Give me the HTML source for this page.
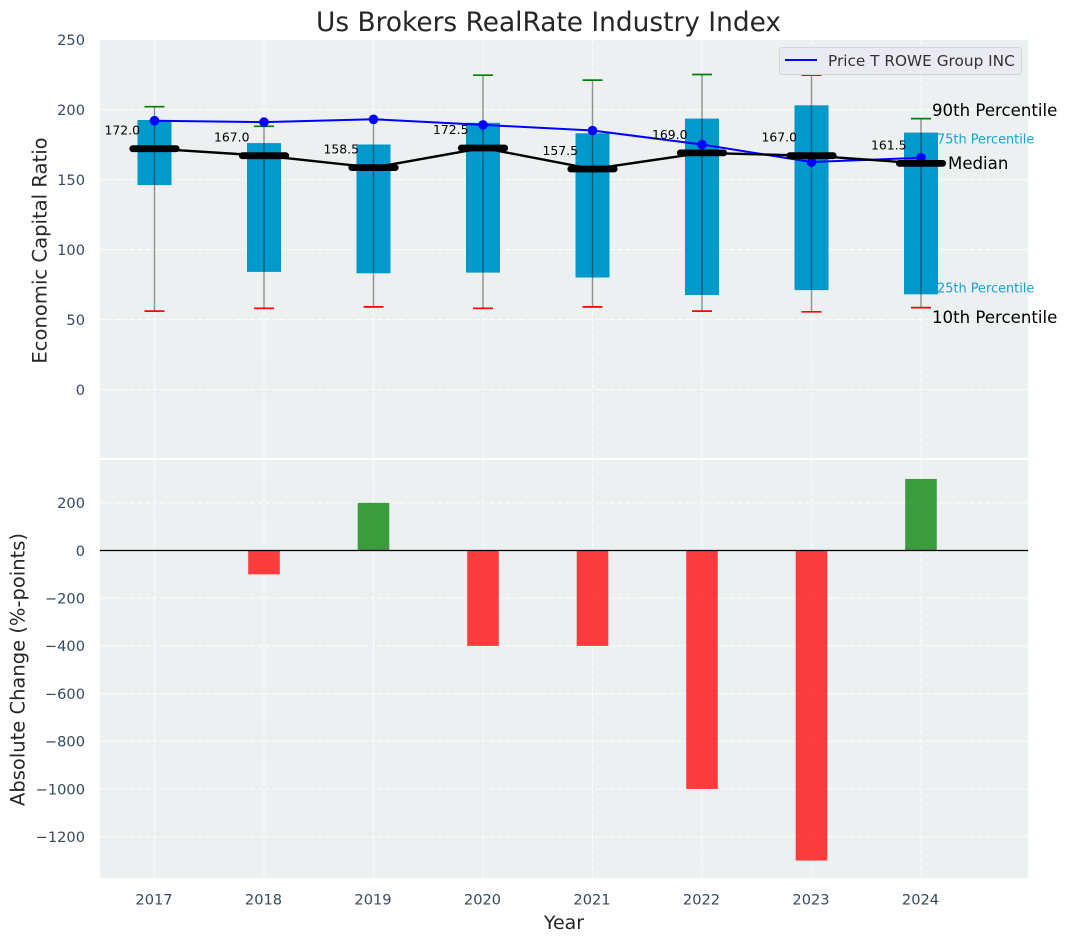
<!DOCTYPE html>
<html lang="en">
<head>
<meta charset="utf-8">
<title>Us Brokers RealRate Industry Index</title>
<style>
html,body{margin:0;padding:0;background:#fff;}
svg{display:block;font-family:"DejaVu Sans","Liberation Sans",sans-serif;}
</style>
</head>
<body>
<svg id="chart" xmlns="http://www.w3.org/2000/svg" width="1067" height="942" viewBox="0 0 1067 942">
  <rect x="100" y="40" width="928" height="418" fill="#ecf0f1"/>
  <rect x="100" y="460" width="928" height="418" fill="#ecf0f1"/>
  <g id="grid"></g>
  <g id="bars"></g>
  <g id="boxes"></g>
  <g id="price"></g>
  <g id="median"></g>
  <g id="ticks"></g>
  <text x="548.5" y="31" text-anchor="middle" font-size="26.4" fill="#262626">Us Brokers RealRate Industry Index</text>
  <text transform="translate(46.5,250.5) rotate(-90)" text-anchor="middle" font-size="19.6" fill="#262626">Economic Capital Ratio</text>
  <text transform="translate(24.5,669.5) rotate(-90)" text-anchor="middle" font-size="19.5" fill="#262626">Absolute Change (%-points)</text>
  <text x="564" y="929" text-anchor="middle" font-size="19" fill="#262626">Year</text>
  <g>
    <rect x="779.5" y="47.5" width="242" height="27" rx="3" fill="#eaeaf2" fill-opacity="0.9" stroke="#d5d5d8" stroke-width="1"/>
    <line x1="785" y1="60" x2="817" y2="60" stroke="#0000ff" stroke-width="2"/>
    <text x="828" y="66" font-size="15.3" fill="#333333">Price T ROWE Group INC</text>
  </g>
  <g>
    <text x="932" y="116" font-size="16.6" fill="#000">90th Percentile</text>
    <text x="937" y="143.5" font-size="12.9" fill="#0099cc" fill-opacity="0.9">75th Percentile</text>
    <text x="948" y="169" font-size="16.6" fill="#000">Median</text>
    <text x="937" y="292.5" font-size="12.9" fill="#0099cc" fill-opacity="0.9">25th Percentile</text>
    <text x="932" y="323" font-size="16.6" fill="#000">10th Percentile</text>
  </g>
</svg>
<script>
const years = [2017, 2018, 2019, 2020, 2021, 2022, 2023, 2024];
const p90 = [202, 188, 193, 224.5, 221, 225, 224.5, 193.5];
const p75 = [192.5, 176, 175, 190.5, 183, 193.5, 203, 183.5];
const p25 = [146, 84, 83, 83.5, 80, 67.5, 71, 68];
const p10 = [56, 58, 59, 58, 59, 56, 55.5, 58.5];
const medians = [172, 167, 158.5, 172.5, 157.5, 169, 167, 161.5];
const priceValues = [192, 191, 193, 189, 185, 175, 162.5, 165.5];
const changes = [null, -100, 200, -400, -400, -1000, -1300, 300];
const topTicks = [0, 50, 100, 150, 200, 250];
const bottomTicks = [-1200, -1000, -800, -600, -400, -200, 0, 200];

const SVGNS = 'http://www.w3.org/2000/svg';
function xScale(year) { return 154.5 + (year - 2017) * 109.5; }
function yTop(v) { return 389.5 - v * 1.4; }
function yBottom(v) { return 550.5 - v * 0.2385; }

function make(tag, parentId, props) {
  const el = document.createElementNS(SVGNS, tag);
  for (const key in props) el.setAttribute(key, props[key]);
  document.getElementById(parentId).appendChild(el);
  return el;
}

/* grid */
years.forEach(function (yr) {
  const a = make('line', 'grid', {x1: xScale(yr), x2: xScale(yr), y1: 40, y2: 458, stroke: '#fff', 'stroke-width': 1.1, 'stroke-dasharray': '5 2.5', 'stroke-opacity': 0.85});
  
  
  const b = make('line', 'grid', {x1: xScale(yr), x2: xScale(yr), y1: 460, y2: 878, stroke: '#fff', 'stroke-width': 1.1, 'stroke-dasharray': '5 2.5', 'stroke-opacity': 0.85});
  
  
  const t = make('text', 'ticks', {x: xScale(yr) - 0.5, y: 904.5, 'text-anchor': 'middle', 'font-size': 14.6, fill: '#34495e'});
  t.textContent = String(yr);
  
  
});
topTicks.forEach(function (v) {
  const g = make('line', 'grid', {x1: 100, x2: 1028, y1: yTop(v), y2: yTop(v), stroke: '#fff', 'stroke-width': 1.1, 'stroke-dasharray': '5 2.5', 'stroke-opacity': 0.85});
  
  
  const t = make('text', 'ticks', {x: 85, y: yTop(v) + 5.5, 'text-anchor': 'end', 'font-size': 14.6, fill: '#34495e'});
  t.textContent = String(v);
  
  
});
bottomTicks.forEach(function (v) {
  const g = make('line', 'grid', {x1: 100, x2: 1028, y1: yBottom(v), y2: yBottom(v), stroke: '#fff', 'stroke-width': 1.1, 'stroke-dasharray': '5 2.5', 'stroke-opacity': 0.85});
  
  
  const t = make('text', 'ticks', {x: 85, y: yBottom(v) + 5.3, 'text-anchor': 'end', 'font-size': 14.6, fill: '#34495e'});
  t.textContent = String(v).replace('-', '\u2212');
  
  
});

/* bottom bars */
years.forEach(function (yr, i) {
  const v = changes[i];
  if (v === null) return;
  const y0 = yBottom(0), y1 = yBottom(v);
  const r = make('rect', 'bars', {x: xScale(yr) - 15.8, width: 31.6, y: Math.min(y0, y1), height: Math.abs(y1 - y0), fill: v < 0 ? '#ff0000' : '#008000', 'fill-opacity': 0.75});
  
  
});
const zero = make('line', 'bars', {x1: 100, x2: 1028, y1: yBottom(0), y2: yBottom(0), stroke: '#000', 'stroke-width': 1.3});



/* boxes, whiskers, caps */
years.forEach(function (yr, i) {
  const cx = xScale(yr);
  const box = make('rect', 'boxes', {x: cx - 17, width: 34, y: yTop(p75[i]), height: yTop(p25[i]) - yTop(p75[i]), fill: '#0099cc'});
  
  
  const w = make('line', 'boxes', {x1: cx, x2: cx, y1: yTop(p90[i]), y2: yTop(p10[i]), stroke: '#000', 'stroke-opacity': 0.42, 'stroke-width': 1.4});
  
  
  const hi = make('line', 'boxes', {x1: cx - 10, x2: cx + 10, y1: yTop(p90[i]), y2: yTop(p90[i]), stroke: '#008000', 'stroke-width': 1.7});
  
  
  const lo = make('line', 'boxes', {x1: cx - 10, x2: cx + 10, y1: yTop(p10[i]), y2: yTop(p10[i]), stroke: '#ff0000', 'stroke-width': 1.7});
  
  
});

/* price line */
const pricePts = years.map(function (yr, i) { return xScale(yr) + ',' + yTop(priceValues[i]); }).join(' ');
const priceLine = make('polyline', 'price', {points: pricePts, fill: 'none', stroke: '#0000ff', 'stroke-width': 2});


years.forEach(function (yr, i) {
  const c = make('circle', 'price', {cx: xScale(yr), cy: yTop(priceValues[i]), r: 4.8, fill: '#0000ff'});
  
  
});

/* median line */
const medianPts = years.map(function (yr, i) { return xScale(yr) + ',' + yTop(medians[i]); }).join(' ');
const medianLine = make('polyline', 'median', {points: medianPts, fill: 'none', stroke: '#000', 'stroke-width': 2.4});


years.forEach(function (yr, i) {
  const cx = xScale(yr), cy = yTop(medians[i]);
  const m = make('line', 'median', {x1: cx - 21.7, x2: cx + 21.7, y1: cy, y2: cy, stroke: '#000', 'stroke-width': 6.8, 'stroke-linecap': 'round'});
  
  
  const t = make('text', 'median', {x: cx - 14.5, y: cy - 14, 'text-anchor': 'end', 'font-size': 12.4, fill: '#000'});
  t.textContent = medians[i].toFixed(1);
  
  
});
</script>
</body>
</html>
